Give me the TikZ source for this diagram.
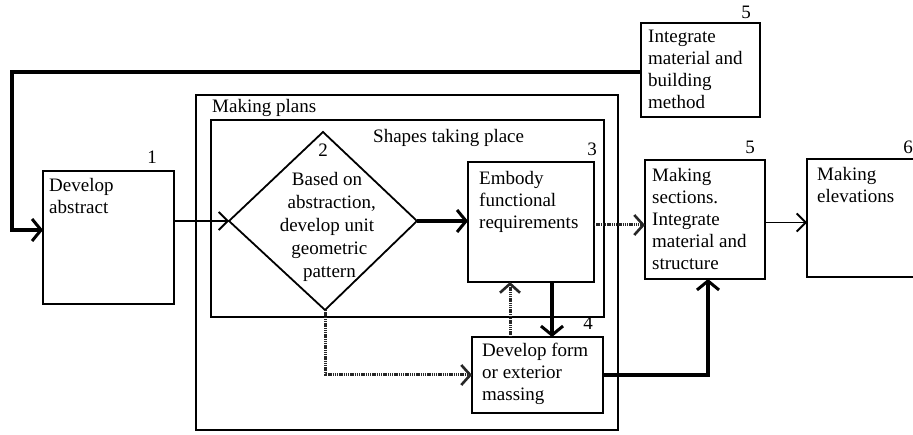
\documentclass[tikz,border=0pt]{standalone}
\usepackage{fontspec}
\setmainfont{Liberation Serif}
\usetikzlibrary{arrows.meta}
\begin{document}
\begin{tikzpicture}[x=1pt,y=-1pt,
  box/.style={draw, line width=1.8pt, inner sep=0pt, outer sep=0pt, anchor=north west},
  ghost/.style={inner sep=0pt, outer sep=0pt, anchor=north west},
  txt/.style={inner sep=0pt, anchor=north west, align=left, font=\fontsize{19}{22}\selectfont},
  lbl/.style={inner sep=0pt, font=\fontsize{19}{22}\selectfont},
  thinarr/.style={line width=1.4pt, -{Straight Barb[length=9pt,width=18pt,line width=1.8pt]}},
  thickarr/.style={line width=3.4pt, -{Straight Barb[length=9pt,width=22pt,line width=3pt]}},
  dotarr/.style={line width=3pt, black!85, dash pattern=on 1.4pt off 0.8pt, -{Straight Barb[length=9pt,width=20pt,line width=2.6pt]}},
  fbline/.style={line width=3.6pt, -{Straight Barb[length=9pt,width=22pt,line width=3pt]}}
]
\useasboundingbox (0,0) rectangle (913,435);

% frames
\node[box, minimum width=422pt, minimum height=335pt] (plans) at (196,95) {};
\node[txt] (plansl) at (212,99) {Making plans};
\node[box, minimum width=393pt, minimum height=197pt] (shapes) at (211,120) {};
\node[txt] (shapesl) at (373,129) {Shapes taking place};

% boxes
\node[box, minimum width=131pt, minimum height=133pt] (abs) at (43,171) {};
\node[txt] (abst) at ([shift={(6,7)}]abs.north west) {Develop\\abstract};
\node[lbl] (n1) at (152,157) {1};

\node[box, minimum width=119pt, minimum height=94pt] (top) at (641,23) {};
\node[txt] (topt) at ([shift={(7,7)}]top.north west) {Integrate\\material and\\building\\method};
\node[lbl] (n5a) at (746,12) {5};

\node[box, minimum width=126pt, minimum height=120pt] (emb) at (468,162) {};
\node[txt] (embt) at ([shift={(11,9)}]emb.north west) {Embody\\functional\\requirements};
\node[lbl] (n3) at (592,149) {3};

\node[box, minimum width=131pt, minimum height=76pt] (form) at (472,337) {};
\node[txt] (formt) at ([shift={(10,6)}]form.north west) {Develop form\\or exterior\\massing};
\node[lbl] (n4) at (588,323) {4};

\node[box, minimum width=120pt, minimum height=119pt] (sec) at (645,160) {};
\node[txt] (sect) at ([shift={(7,8)}]sec.north west) {Making\\sections.\\Integrate\\material and\\structure};
\node[lbl] (n5b) at (750,147) {5};

\node[ghost, minimum width=110pt, minimum height=118pt] (elev) at (807,159) {};
\draw[line width=1.8pt] (elev.north east) -- (elev.north west) -- (elev.south west) -- (elev.south east);
\node[txt] (elevt) at ([shift={(10,8)}]elev.north west) {Making\\elevations};
\node[lbl] (n6) at (908,147) {6};

% diamond
\coordinate (dT) at (323,132);
\coordinate (dR) at (417,221);
\coordinate (dB) at (325,310);
\coordinate (dL) at (229,221);
\draw[line width=1.8pt, line join=miter] (dT) -- (dR) -- (dB) -- (dL) -- cycle;
\node[lbl] (n2) at (323,150) {2};
\node[txt, anchor=north, align=center, font=\fontsize{19}{23}\selectfont] (diat) at (327,172) {Based on\\\ \ abstraction,\\develop unit\\\ geometric\\\ pattern};

% connectors
\coordinate (fbc) at (12,230);
\draw[fbline] ([yshift=-2pt]top.west) -| (fbc) -- (fbc -| abs.west);
\draw[thinarr] (abs.east |- dL) -- (dL);
\draw[thickarr] (dR) -- (dR -| emb.west);
\draw[dotarr] ([yshift=-3pt]emb.east) -- ([yshift=-3pt]emb.east -| sec.west);
\draw[thinarr] ([yshift=-3pt]sec.east) -- ([yshift=-3pt]sec.east -| elev.west);
\draw[thickarr] ([xshift=21pt]emb.south) -- ([xshift=21pt]emb.south |- form.north);
\draw[dotarr] ([xshift=-21pt]emb.south |- form.north) -- ([xshift=-21pt]emb.south);
\draw[dotarr] (dB) |- (form.west);
\draw[thickarr] (form.east) -| ([xshift=3pt]sec.south);
\end{tikzpicture}
\end{document}
